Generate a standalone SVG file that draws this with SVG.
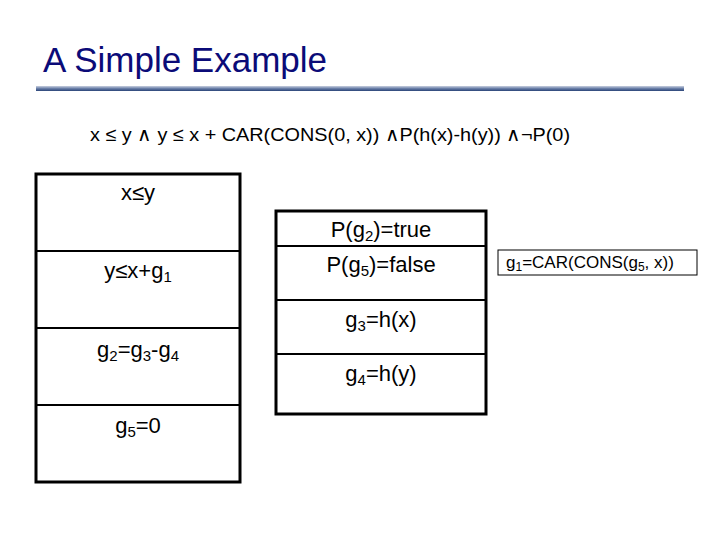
<svg xmlns="http://www.w3.org/2000/svg" width="720" height="540" viewBox="0 0 720 540">
<defs><linearGradient id="bar" x1="0" y1="0" x2="0" y2="1"><stop offset="0" stop-color="#c8d0e0"/><stop offset="0.5" stop-color="#6a7fa8"/><stop offset="1" stop-color="#2a4478"/></linearGradient></defs>
<style>
text{font-family:"Liberation Sans",Arial,sans-serif;fill:#000}
.c{font-size:22px;text-anchor:middle}
.box{fill:#fff;stroke:#000;stroke-width:3}
.div{stroke:#000;stroke-width:2}
</style>
<rect width="720" height="540" fill="#fff"/>
<text x="43" y="72" font-size="35" style="fill:#0b0b78">A Simple Example</text>
<rect x="36" y="86" width="648" height="5" fill="url(#bar)"/>
<text x="90" y="141" font-size="19" textLength="480" lengthAdjust="spacingAndGlyphs">x ≤ y ∧ y ≤ x + CAR(CONS(0, x)) ∧P(h(x)-h(y)) ∧¬P(0)</text>
<g id="left">
<rect class="box" x="36" y="174" width="204" height="308"/>
<line class="div" x1="36" y1="251" x2="240" y2="251"/>
<line class="div" x1="36" y1="328" x2="240" y2="328"/>
<line class="div" x1="36" y1="405" x2="240" y2="405"/>
<text class="c" x="138" y="200">x≤y</text>
<text class="c" x="138" y="278">y≤x+g<tspan font-size="15" dy="4">1</tspan></text>
<text class="c" x="138" y="357">g<tspan font-size="15" dy="4">2</tspan><tspan dy="-4">=g</tspan><tspan font-size="15" dy="4">3</tspan><tspan dy="-4">-g</tspan><tspan font-size="15" dy="4">4</tspan></text>
<text class="c" x="138" y="433">g<tspan font-size="15" dy="4">5</tspan><tspan dy="-4">=0</tspan></text>
</g>
<g id="middle">
<rect class="box" x="276" y="211" width="210" height="203"/>
<line class="div" x1="276" y1="246" x2="486" y2="246"/>
<line class="div" x1="276" y1="300" x2="486" y2="300"/>
<line class="div" x1="276" y1="354" x2="486" y2="354"/>
<text class="c" x="381" y="237">P(g<tspan font-size="15" dy="4">2</tspan><tspan dy="-4">)=true</tspan></text>
<text class="c" x="381" y="272">P(g<tspan font-size="15" dy="4">5</tspan><tspan dy="-4">)=false</tspan></text>
<text class="c" x="381" y="327">g<tspan font-size="15" dy="4">3</tspan><tspan dy="-4">=h(x)</tspan></text>
<text class="c" x="381" y="381">g<tspan font-size="15" dy="4">4</tspan><tspan dy="-4">=h(y)</tspan></text>
</g>
<g id="g1def">
<rect x="498" y="250" width="199" height="25" fill="#fff" stroke="#000" stroke-width="1"/>
<text x="506" y="268" font-size="17">g<tspan font-size="12" dy="3">1</tspan><tspan dy="-3">=CAR(CONS(g</tspan><tspan font-size="12" dy="3">5</tspan><tspan dy="-3">, x))</tspan></text>
</g>
<g id="connectors"/>
</svg>
